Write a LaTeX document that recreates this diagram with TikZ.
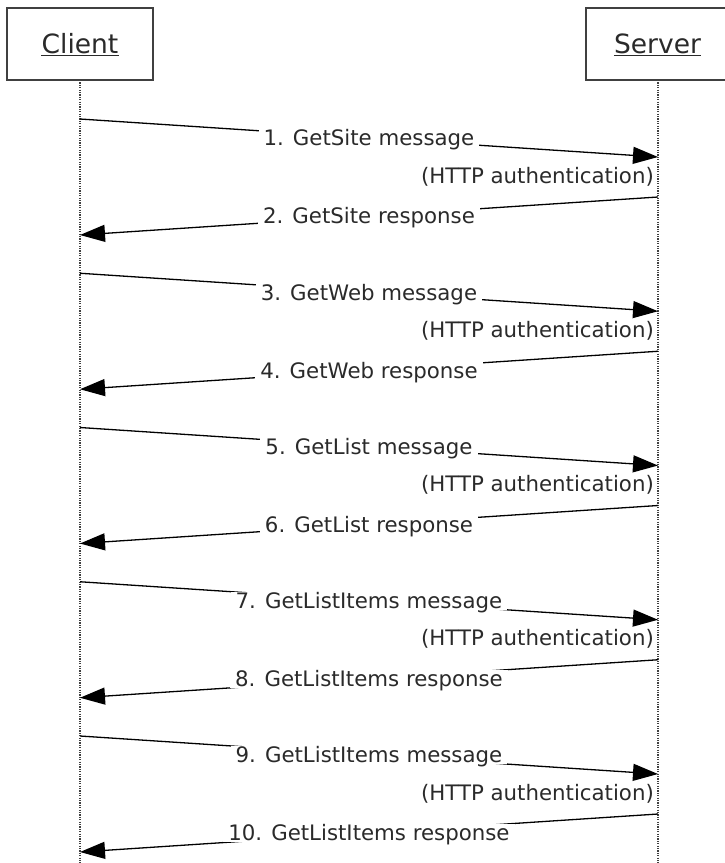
\documentclass[tikz,border=0pt]{standalone}
\usepackage{fontspec}
\setmainfont{DejaVu Sans}
\usetikzlibrary{arrows.meta}
\definecolor{txt}{HTML}{2a2a2a}
\definecolor{frame}{HTML}{404040}
\begin{document}
\begin{tikzpicture}[x=1pt,y=-1pt,
  msgfont/.style={font=\fontsize{21.3}{25}\selectfont, text=txt},
  headbox/.style={draw=frame, line width=1.3pt, fill=white, minimum width=146pt, minimum height=72pt, inner sep=0pt},
  headtext/.style={font=\fontsize{26.5}{30}\selectfont, text=txt, inner sep=0pt, anchor=base},
  underl/.style={draw=txt, line width=1.1pt},
  lifeline/.style={draw=frame, line width=1.3pt, dash pattern=on 1.2pt off 1.2pt},
  msgline/.style={draw=black, line width=1.3pt, -{Triangle[length=25pt,width=17pt]}},
  msglabel/.style={msgfont, fill=white, inner xsep=5pt, inner ysep=1pt, text height=15.5pt, text depth=0pt, anchor=center},
  authlabel/.style={msgfont, inner sep=0pt, anchor=base east}]
\useasboundingbox (0,0) rectangle (724,863);
% lifelines
\coordinate (ctop) at (80,80);
\coordinate (cend) at (80,863);
\coordinate (stop) at (658,80);
\coordinate (send) at (658,863);
\draw[lifeline] (ctop) -- (cend);
\draw[lifeline] (stop) -- (send);
% heads
\node[headbox] (client) at (80,44) {};
\node[headtext] (clientt) at (80,53) {Client};
\draw[underl] ([yshift=-2.5pt]clientt.base west) -- ([yshift=-2.5pt]clientt.base east);
\node[headbox, minimum width=144pt] (server) at (658,44) {};
\node[headtext] (servert) at (657.5,53) {Server};
\draw[underl] ([yshift=-2.5pt]servert.base west) -- ([yshift=-2.5pt]servert.base east);
% messages
\foreach \k/\a/\b in {0/{1. GetSite message}/{2. GetSite response},
                      1/{3. GetWeb message}/{4. GetWeb response},
                      2/{5. GetList message}/{6. GetList response},
                      3/{7. GetListItems message}/{8. GetListItems response},
                      4/{9. GetListItems message}/{10. GetListItems response}}{
  \pgfmathsetmacro{\yz}{119+154.25*\k}
  \coordinate (ma\k) at (80,\yz);
  \coordinate (mb\k) at (658,\yz+38);
  \coordinate (ra\k) at (658,\yz+78);
  \coordinate (rb\k) at (80,\yz+116);
  \draw[msgline] (ma\k) -- node[msglabel] (ml\k) {\a} (mb\k);
  \node[authlabel] (auth\k) at (654,\yz+64) {(HTTP authentication)};
  \draw[msgline] (ra\k) -- node[msglabel] (rl\k) {\b} (rb\k);
}
\end{tikzpicture}
\end{document}
